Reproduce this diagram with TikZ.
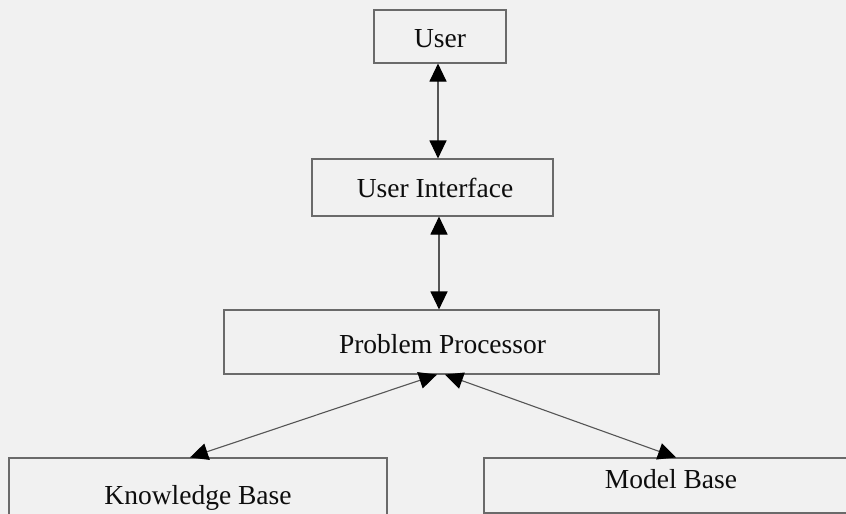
\documentclass[tikz,border=0pt]{standalone}
\usepackage{fontspec}
\setmainfont{Liberation Serif}
\usetikzlibrary{arrows.meta}
\definecolor{bg}{HTML}{F1F1F1}
\definecolor{edge}{HTML}{6A6A6A}
\definecolor{conn}{HTML}{555555}
\tikzset{
  box/.style={draw=edge, line width=1.1pt, rectangle, inner sep=0pt},
  lbl/.style={anchor=base, inner sep=0pt, font=\fontsize{27.5}{30}\selectfont, text=black!95},
  biarrow/.style={draw=conn, line width=1.1pt, {Triangle[length=18pt,width=17pt,color=black,fill=black]}-{Triangle[length=18pt,width=17pt,color=black,fill=black]}}
}
\begin{document}
\begin{tikzpicture}[x=1pt,y=-1pt]
\fill[bg] (0,0) rectangle (846,514);
\useasboundingbox (0,0) rectangle (846,514);
% boxes
\node[box, minimum width=132pt, minimum height=53pt] (user) at (440,36.5) {};
\node[box, minimum width=241pt, minimum height=57pt] (ui) at (432.5,187.5) {};
\node[box, minimum width=435pt, minimum height=64pt] (pp) at (441.5,342) {};
\node[box, minimum width=378pt, minimum height=72pt] (kb) at (198,494) {};
\node[box, minimum width=386pt, minimum height=55pt] (mb) at (677,485.5) {};
% labels
\node[lbl] (tuser) at (440,47) {User};
\node[lbl] (tui) at (435,197) {User Interface};
\node[lbl] (tpp) at (442.5,353) {Problem Processor};
\node[lbl] (tkb) at (198,504) {Knowledge Base};
\node[lbl] (tmb) at (671,488) {Model Base};
% connector anchor points
\coordinate (a1) at (438,0);
\coordinate (a2) at (439,0);
\coordinate (pl) at (437,0);
\coordinate (pr) at (445,0);
\coordinate (kbx) at (190,0);
\coordinate (mbx) at (676,0);
% connectors
\draw[biarrow] (user.south -| a1) -- (ui.north -| a1);
\draw[biarrow] (ui.south -| a2) -- (pp.north -| a2);
\draw[biarrow] (pp.south -| pl) -- (kb.north -| kbx);
\draw[biarrow] (pp.south -| pr) -- (mb.north -| mbx);
\end{tikzpicture}
\end{document}
